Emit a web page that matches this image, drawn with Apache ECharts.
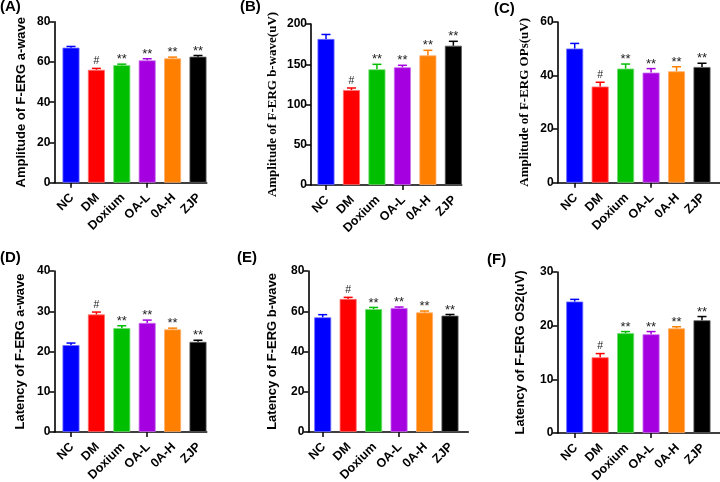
<!DOCTYPE html>
<html><head><meta charset="utf-8">
<script src="https://cdn.jsdelivr.net/npm/echarts@6/dist/echarts.min.js"></script>
<style>html,body{margin:0;padding:0;background:#fff}#c{width:720px;height:482px}</style>
</head><body><div id="c"></div>
<script>
// ---- data ----
const categories = ['NC', 'DM', 'Doxium', 'OA-L', '0A-H', 'ZJP'];
const significance = ['', '#', '**', '**', '**', '**'];
const aWaveAmp = [67.1, 56.1, 58.4, 60.8, 61.8, 62.6];
const aWaveAmpSem = [0.6, 0.7, 0.5, 0.8, 0.6, 0.6];
const bWaveAmp = [181.4, 118.0, 143.7, 146.2, 161.0, 173.0];
const bWaveAmpSem = [5.6, 2.5, 6.2, 2.5, 6.3, 5.5];
const opsAmp = [50.1, 35.9, 42.6, 41.1, 41.6, 43.2];
const opsAmpSem = [1.9, 1.6, 1.7, 1.5, 1.7, 1.4];
const aWaveLat = [21.6, 29.2, 25.8, 27.1, 25.5, 22.4];
const aWaveLatSem = [0.5, 0.6, 0.6, 0.7, 0.3, 0.4];
const bWaveLat = [57.0, 66.1, 61.1, 61.6, 59.4, 57.8];
const bWaveLatSem = [1.3, 0.8, 0.8, 0.5, 0.7, 0.6];
const os2Lat = [24.5, 14.1, 18.6, 18.4, 19.5, 21.0];
const os2LatSem = [0.4, 0.7, 0.3, 0.5, 0.3, 0.7];
const yTicksA = {max: 80, interval: 20};
const yTicksB = {max: 200, interval: 50};
const yTicksC = {max: 60, interval: 20};
const yTicksD = {max: 40, interval: 10};
const yTicksE = {max: 80, interval: 20};
const yTicksF = {max: 30, interval: 10};

// ---- styles / layout ----
const barColors = ['#0000FF', '#FF0000', '#00BE00', '#A500E0', '#FF8000', '#000000'];
const barEdges = ['#7070FF', '#FF7070', '#70DD70', '#CC70F0', '#FFB070', '#606060'];
const SANS = 'Liberation Sans, Arial, sans-serif';
const SERIF = 'Liberation Serif, Times New Roman, serif';

const panels = [
  {label: '(A)', lx: 0, ly: -1, name: 'Amplitude of F-ERG a-wave', font: SANS, vals: aWaveAmp, sem: aWaveAmpSem, ticks: yTicksA,
   axisX: 54.3, top: 21.7, zero: 182.7, nc: 71, band: 25.4, end: 206.7, gap: 26},
  {label: '(B)', lx: 240, ly: -1, name: 'Amplitude of F-ERG b-wave(uV)', font: SERIF, vals: bWaveAmp, sem: bWaveAmpSem, ticks: yTicksB,
   axisX: 311, top: 24, zero: 185, nc: 326, band: 25.47, end: 461.7, gap: 32},
  {label: '(C)', lx: 494, ly: 1, name: 'Amplitude of F-ERG OPs(uV)', font: SERIF, vals: opsAmp, sem: opsAmpSem, ticks: yTicksC,
   axisX: 557.7, top: 22, zero: 182.7, nc: 574.7, band: 25.46, end: 720, gap: 27},
  {label: '(D)', lx: 0, ly: 250, name: 'Latency of F-ERG a-wave', font: SANS, vals: aWaveLat, sem: aWaveLatSem, ticks: yTicksD,
   axisX: 54.3, top: 271, zero: 432, nc: 71, band: 25.4, end: 206.7, gap: 27},
  {label: '(E)', lx: 237, ly: 250, name: 'Latency of F-ERG b-wave', font: SANS, vals: bWaveLat, sem: bWaveLatSem, ticks: yTicksE,
   axisX: 308.3, top: 271, zero: 432, nc: 322.7, band: 25.46, end: 468.3, gap: 29},
  {label: '(F)', lx: 487, ly: 252, name: 'Latency of F-ERG OS2(uV)', font: SANS, vals: os2Lat, sem: os2LatSem, ticks: yTicksF,
   axisX: 557.3, top: 272, zero: 433, nc: 574.7, band: 25.46, end: 720, gap: 30}
];

const option = {animation: false, backgroundColor: '#fff', title: [], grid: [], xAxis: [], yAxis: [], series: []};
const axisLineStyle = {color: '#000', width: 1.6};

panels.forEach((p, k) => {
  option.title.push({text: p.label, left: p.lx, top: p.ly, padding: 0,
    textStyle: {fontFamily: SANS, fontWeight: 'bold', fontSize: 15, color: '#000'}});
  const gData = 2 * k, gFrame = 2 * k + 1;
  option.grid.push({left: p.nc - p.band / 2, top: p.top, width: 6 * p.band, height: p.zero - p.top, containLabel: false});
  option.grid.push({left: p.axisX, top: p.top, width: p.end - p.axisX, height: p.zero - p.top, containLabel: false});

  option.xAxis.push({
    type: 'category', gridIndex: gData, data: categories,
    axisLine: {show: false},
    axisTick: {show: true, alignWithLabel: true, length: 5, lineStyle: {color: '#000', width: 1.5}},
    axisLabel: {show: false}
  });
  option.xAxis.push({
    type: 'value', gridIndex: gFrame, min: 0, max: 1, splitLine: {show: false},
    axisLine: {onZero: false, lineStyle: axisLineStyle}, axisTick: {show: false}, axisLabel: {show: false}
  });
  option.yAxis.push({
    type: 'value', gridIndex: gData, min: 0, max: p.ticks.max, interval: p.ticks.interval, show: false
  });
  option.yAxis.push({
    type: 'value', gridIndex: gFrame, min: 0, max: p.ticks.max, interval: p.ticks.interval,
    name: p.name, nameLocation: 'middle', nameGap: p.gap,
    nameTextStyle: {fontFamily: p.font, fontWeight: 'bold', fontSize: 13, color: '#000'},
    splitLine: {show: false},
    axisLine: {show: true, onZero: false, lineStyle: axisLineStyle},
    axisTick: {show: true, length: 5, lineStyle: {color: '#000', width: 1.5}},
    axisLabel: {margin: 4, fontFamily: SANS, fontWeight: 'bold', fontSize: 12, color: '#000'}
  });
  option.series.push({
    type: 'bar', xAxisIndex: gData, yAxisIndex: gData, barWidth: 17,
    data: p.vals.map((v, i) => ({value: v, itemStyle: {color: barColors[i], borderColor: barEdges[i], borderWidth: 0.8}}))
  });
  option.series.push({
    type: 'custom', xAxisIndex: gData, yAxisIndex: gData, z: 3, clip: false,
    data: p.vals.map((v, i) => [i, v, p.sem[i]]),
    renderItem: (params, api) => {
      const i = api.value(0), v = api.value(1), e = api.value(2);
      const b = api.coord([i, v]);
      const t = api.coord([i, v + e]);
      const z = api.coord([i, 0]);
      const col = barColors[i];
      const ch = [
        {type: 'line', shape: {x1: b[0], y1: b[1], x2: t[0], y2: t[1]}, style: {stroke: col, lineWidth: 1.5}},
        {type: 'line', shape: {x1: t[0] - 4.5, y1: t[1], x2: t[0] + 4.5, y2: t[1]}, style: {stroke: col, lineWidth: 1.5}},
        // rotated category label under the tick
        {type: 'text', x: z[0] + 1, y: z[1] + 13, rotation: Math.PI / 4,
          style: {text: categories[i], fill: '#000', fontFamily: SANS, fontWeight: 'bold', fontSize: 12.5, align: 'right', verticalAlign: 'middle'}}
      ];
      const s = significance[i];
      if (s) {
        ch.push({type: 'text', x: t[0], y: s === '#' ? t[1] - 1.5 : t[1] + 2,
          style: {text: s, fill: '#222', fontFamily: SANS, fontSize: s === '#' ? 10.5 : 13, align: 'center', verticalAlign: 'bottom'}});
      }
      return {type: 'group', children: ch};
    }
  });
});

const chart = echarts.init(document.getElementById('c'), null, {renderer: 'canvas'});
chart.setOption(option);
</script>
</body></html>
